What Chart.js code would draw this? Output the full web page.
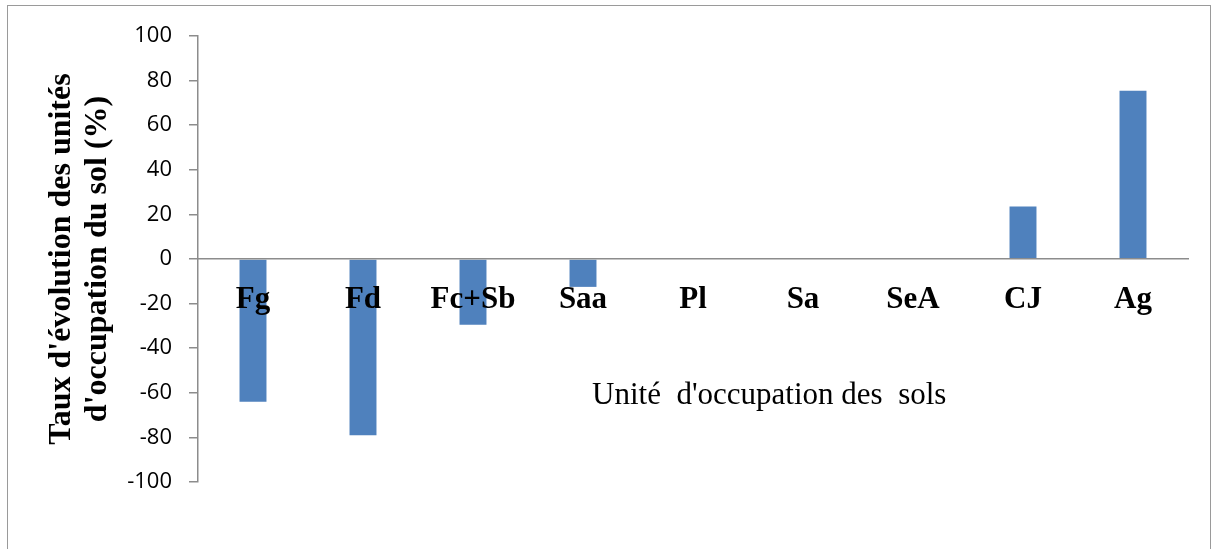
<!DOCTYPE html>
<html>
<head>
<meta charset="utf-8">
<script src="https://cdn.jsdelivr.net/npm/chart.js@4/dist/chart.umd.min.js"></script>
<style>
  body { margin: 0; background: #fff; }
  #wrap { position: relative; width: 1214px; height: 549px; overflow: hidden; }
  #frame { position: absolute; left: 7px; top: 5px; width: 1202px; height: 600px; border: 1.5px solid #9a9a9a; }
  #chart { position: absolute; left: 0; top: 0; }
</style>
</head>
<body>
<div id="wrap">
  <div id="frame"></div>
  <canvas id="chart" width="1214" height="549"></canvas>
</div>
<script>
const categories = ["Fg", "Fd", "Fc+Sb", "Saa", "Pl", "Sa", "SeA", "CJ", "Ag"];
const tauxEvolution = [-64, -79, -29.5, -12.5, 0, 0, 0, 23.5, 75.5];
const yTickValues = [-100, -80, -60, -40, -20, 0, 20, 40, 60, 80, 100];
const yTitle = ["Taux d'évolution des unités", "d'occupation du sol (%)"];
const xTitle = "Unité  d'occupation des  sols";

// titre de l'axe X placé à droite du centre, comme dans Excel
const xTitlePlugin = {
    id: "xTitlePlugin",
    afterDraw(chart) {
        const ctx = chart.ctx;
        const area = chart.chartArea;
        ctx.save();
        ctx.font = "31px 'Liberation Serif'";
        ctx.fillStyle = "#000";
        ctx.textAlign = "center";
        ctx.textBaseline = "middle";
        ctx.fillText(xTitle, area.left + (area.right - area.left) * 0.577, 396);
        ctx.restore();
    }
};

const ctx = document.getElementById("chart").getContext("2d");
new Chart(ctx, {
    type: "bar",
    data: {
        labels: categories,
        datasets: [{
            data: tauxEvolution,
            backgroundColor: "#4f81bd",
            borderWidth: 0,
            barPercentage: 0.245,
            categoryPercentage: 1
        }]
    },
    options: {
        responsive: false,
        animation: false,
        layout: { padding: { top: 36, right: 26, bottom: 67, left: 0 } },
        plugins: {
            legend: { display: false },
            tooltip: { enabled: false }
        },
        scales: {
            x: {
                position: { y: 0 },
                grid: { display: false, drawTicks: false },
                border: { display: true, color: "#8c8c8c", width: 1.5, z: 1 },
                ticks: {
                    z: 1, // étiquettes par-dessus les barres
                    padding: 22,
                    color: "#000",
                    font: { family: "'Liberation Serif'", size: 31, weight: "bold" }
                }
            },
            y: {
                min: -100,
                max: 100,
                afterBuildTicks: scale => { scale.ticks = yTickValues.map(v => ({ value: v })); },
                afterFit: scale => { scale.width = 198; },
                grid: { drawOnChartArea: false, drawTicks: true, tickLength: 9, color: "#8c8c8c", lineWidth: 1.5 },
                border: { display: true, color: "#8c8c8c", width: 1.5 },
                ticks: {
                    padding: 17,
                    color: "#000",
                    font: { family: "'Open Sans'", size: 22 }
                },
                title: {
                    display: true,
                    text: yTitle,
                    color: "#000",
                    padding: { top: 44 },
                    font: { family: "'Liberation Serif'", size: 32, weight: "bold", lineHeight: 36 / 32 }
                }
            }
        }
    },
    plugins: [xTitlePlugin]
});
</script>
</body>
</html>
